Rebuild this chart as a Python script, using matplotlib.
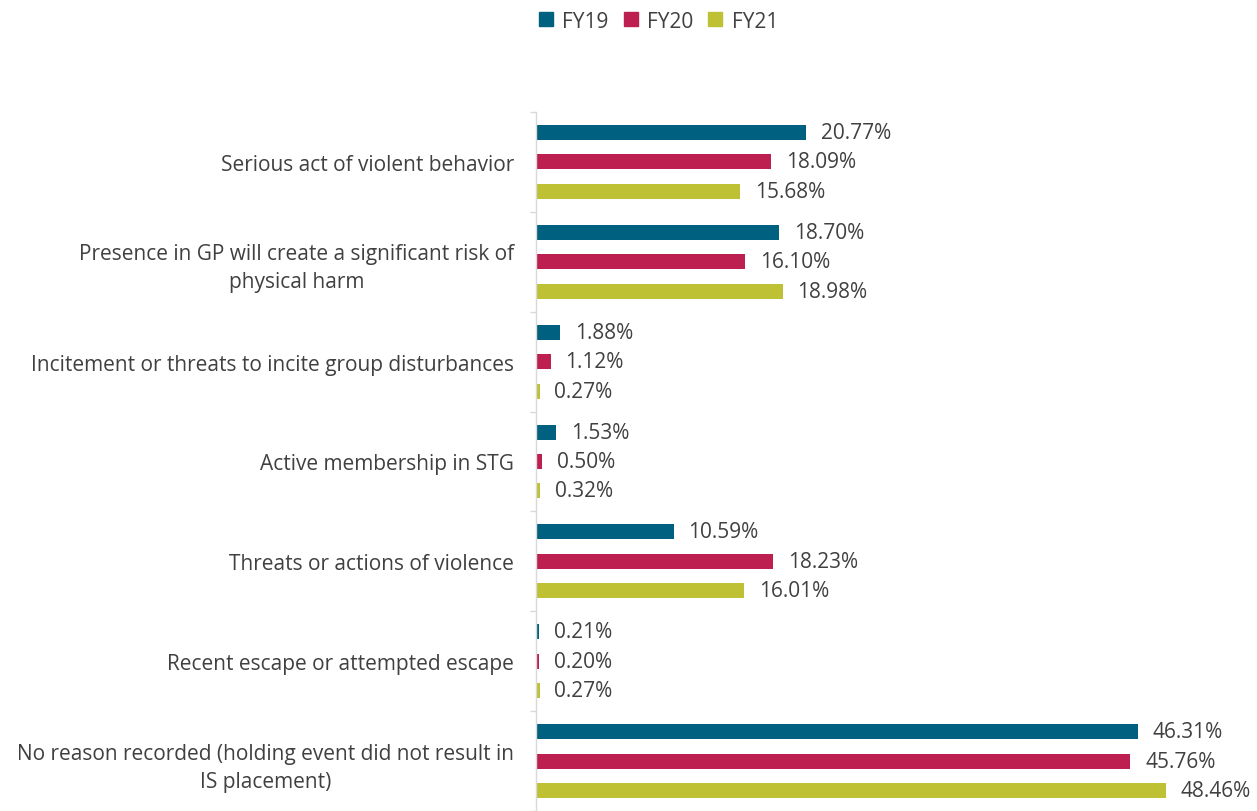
import matplotlib
matplotlib.use("Agg")
import matplotlib.pyplot as plt
import numpy as np
from matplotlib.lines import Line2D

categories = [
    "Serious act of violent behavior",
    "Presence in GP will create a significant risk of\nphysical harm",
    "Incitement or threats to incite group disturbances",
    "Active membership in STG",
    "Threats or actions of violence",
    "Recent escape or attempted escape",
    "No reason recorded (holding event did not result in\nIS placement)",
]
series_names = ["FY19", "FY20", "FY21"]
fy19 = [20.77, 18.70, 1.88, 1.53, 10.59, 0.21, 46.31]
fy20 = [18.09, 16.10, 1.12, 0.50, 18.23, 0.20, 45.76]
fy21 = [15.68, 18.98, 0.27, 0.32, 16.01, 0.27, 48.46]
colors = ["#00607F", "#BC1F50", "#BDC133"]

plt.rcParams['font.family'] = ['Open Sans', 'DejaVu Sans']
text_color = "#404040"
fs = 15

fig = plt.figure(figsize=(12.57, 8.12), dpi=100)
ax = fig.add_axes([536/1257, 0.0, 1 - 536/1257, 1 - 113/812])

y = np.arange(len(categories))
offsets = [-0.295, 0.0, 0.295]
h = 0.15
for vals, off, c, name in zip([fy19, fy20, fy21], offsets, colors, series_names):
    bars = ax.barh(y + off, vals, height=h, color=c, label=name)
    for b, v in zip(bars, vals):
        ax.text(v + 1.15, b.get_y() + b.get_height()/2, f"{v:.2f}%",
                va="center", ha="left", fontsize=fs, color=text_color)

ax.set_xlim(0, 55.5)
ax.set_ylim(len(categories) - 0.5, -0.5)
ax.set_xticks([])
ax.set_yticks(y)
ax.set_yticklabels(categories, fontsize=fs, color=text_color,
                   multialignment="center", linespacing=1.45)
ax.set_yticks(np.arange(-0.5, len(categories), 1.0), minor=True)
ax.tick_params(axis="y", which="major", length=0, pad=16)
ax.tick_params(axis="y", which="minor", length=4, color="#D9D9D9", width=1)
for s in ["top", "right", "bottom"]:
    ax.spines[s].set_visible(False)
ax.spines["left"].set_color("#D9D9D9")
ax.spines["left"].set_linewidth(1)

handles = [Line2D([], [], marker="s", linestyle="none", markersize=9.5,
                  markerfacecolor=c, markeredgecolor=c) for c in colors]
fig.legend(handles, series_names, loc="center", bbox_to_anchor=(659/1257, 1 - 22/812),
           ncol=3, frameon=False, fontsize=fs, handletextpad=0.5, columnspacing=0.75,
           handlelength=0.6, labelcolor=text_color)

fig.savefig("out.png", dpi=100)
